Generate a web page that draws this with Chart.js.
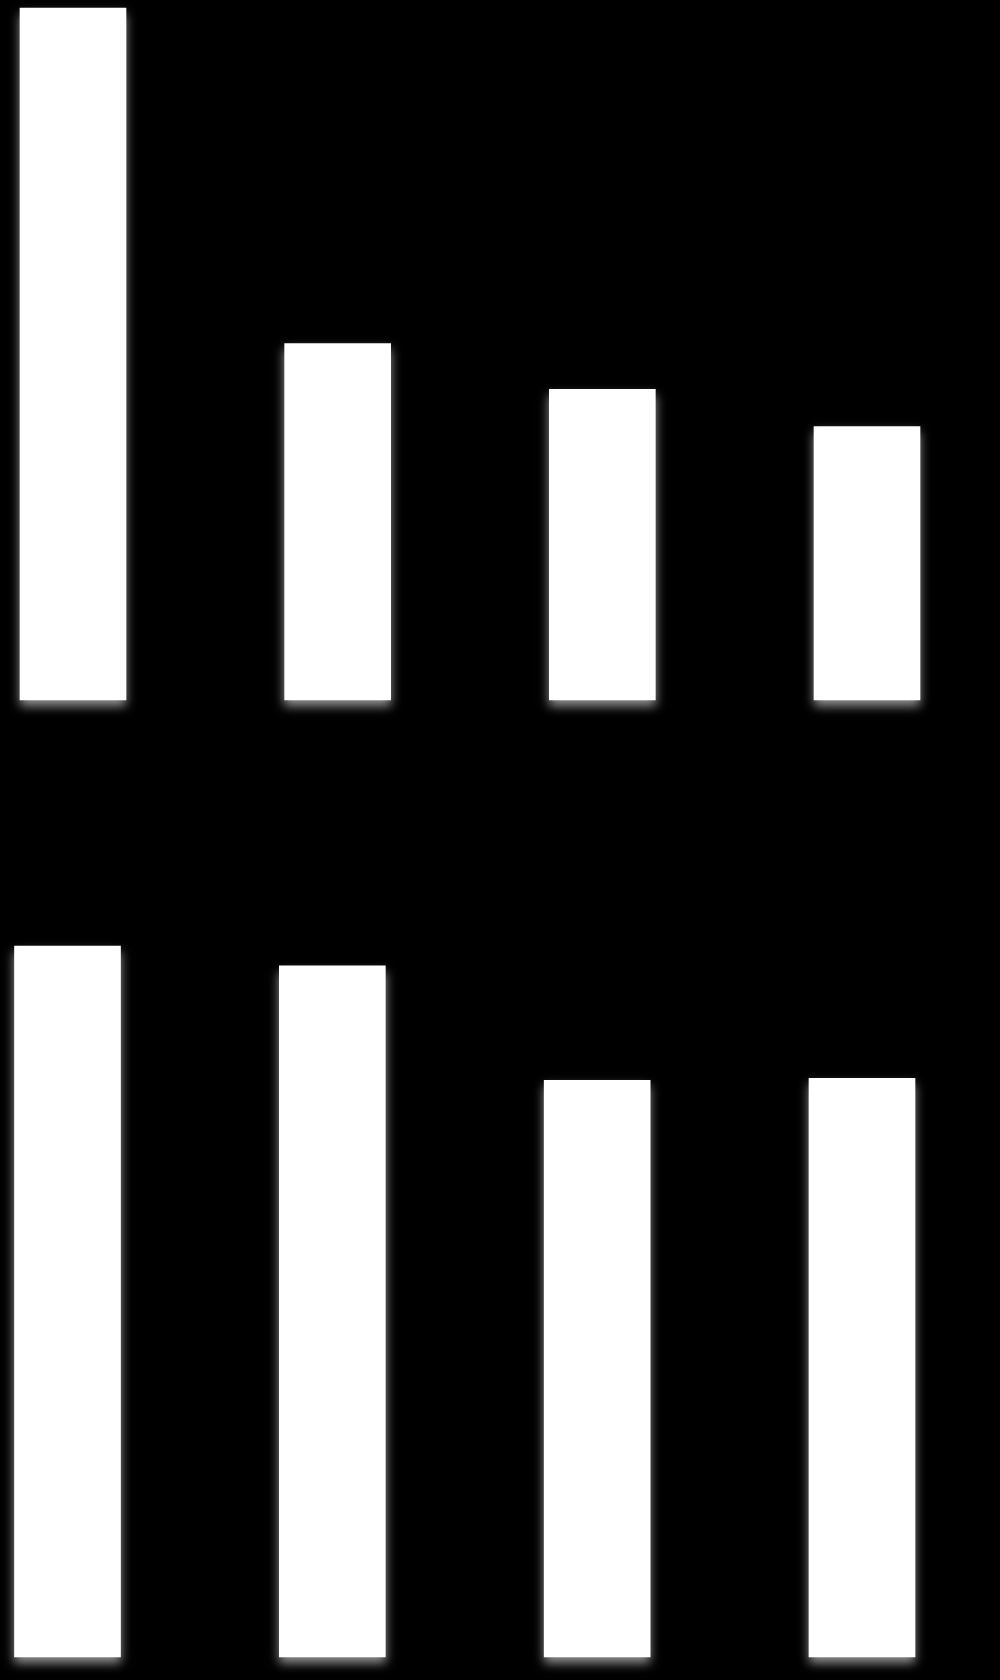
<!DOCTYPE html>
<html>
<head>
<meta charset="utf-8">
<script src="https://cdn.jsdelivr.net/npm/chart.js@4.4.1/dist/chart.umd.min.js"></script>
<style>
  html, body { margin: 0; padding: 0; background: #000; overflow: hidden; }
  #wrap { position: relative; width: 1000px; height: 1680px; }
  .box { position: absolute; left: 0; width: 1000px; }
  #topBox { top: 0; height: 720px; }
  #bottomBox { top: 720px; height: 960px; }
</style>
</head>
<body>
<div id="wrap">
  <div class="box" id="topBox"><canvas id="topChart"></canvas></div>
  <div class="box" id="bottomBox"><canvas id="bottomChart"></canvas></div>
</div>
<script>
var categories = ["1", "2", "3", "4"];
var topValues = [100, 51.5, 44.9, 39.5];
var bottomValues = [100, 97.2, 81.1, 81.4];

// soft grey shadow falling under the bars
var barShadow = {
  id: "barShadow",
  beforeDatasetsDraw: function(chart) {
    var ctx = chart.ctx;
    ctx.save();
    ctx.shadowColor = "rgba(150,150,150,1)";
    ctx.shadowBlur = 10;
    ctx.shadowOffsetX = 0;
    ctx.shadowOffsetY = 6;
  },
  afterDatasetsDraw: function(chart) {
    chart.ctx.restore();
  }
};

function barChart(id, values, pad) {
  return new Chart(id, {
    type: "bar",
    data: {
      labels: categories,
      datasets: [{
        data: values,
        backgroundColor: "#ffffff",
        borderWidth: 0,
        barThickness: 106,
        clip: false
      }]
    },
    options: {
      responsive: true,
      maintainAspectRatio: false,
      animation: false,
      layout: { padding: pad },
      plugins: {
        legend: { display: false },
        tooltip: { enabled: false }
      },
      scales: {
        x: { display: false, offset: false, grid: { display: false } },
        y: { display: false, min: 0, max: Math.max.apply(null, values), grid: { display: false } }
      }
    },
    plugins: [barShadow]
  });
}

barChart("topChart", topValues, { left: 73, right: 133, top: 8, bottom: 20 });
barChart("bottomChart", bottomValues, { left: 67.5, right: 138, top: 226, bottom: 23 });
</script>
</body>
</html>
